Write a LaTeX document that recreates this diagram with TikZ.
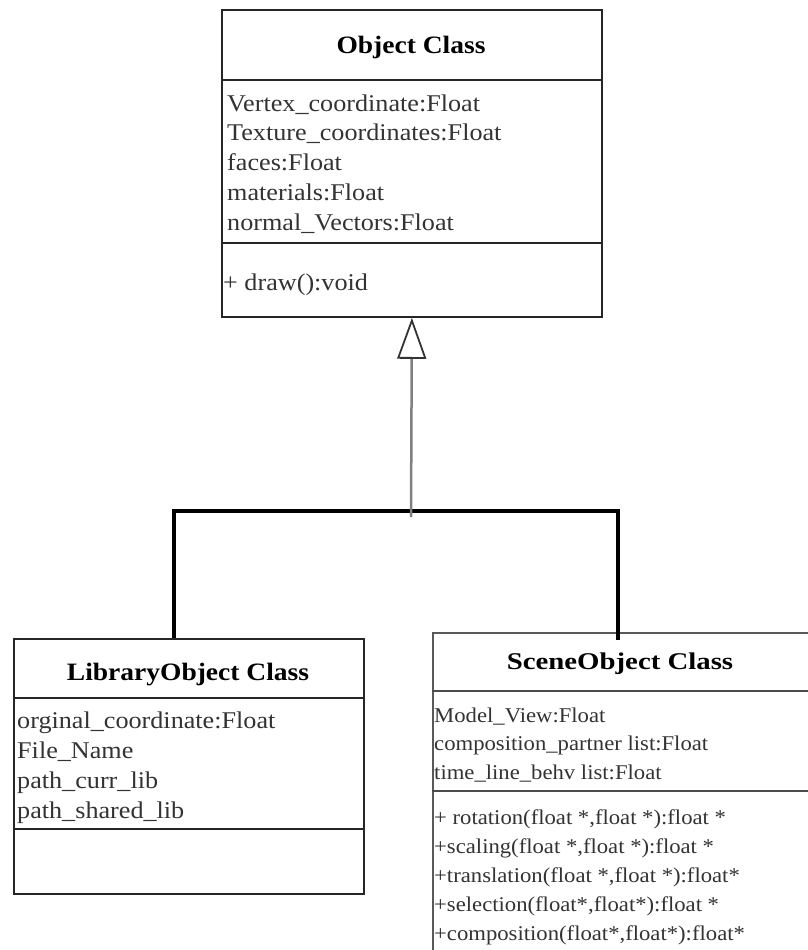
\documentclass[tikz,border=0pt]{standalone}
\usepackage{fontspec}
\setmainfont{Liberation Serif}
\newfontfamily\attrfont[FakeStretch=1.09]{Liberation Serif}
\newfontfamily\scenefont[FakeStretch=1.08]{Liberation Serif}
\newfontfamily\titlefont[FakeStretch=1.1]{Liberation Serif}
\newfontfamily\scenetitlefont[FakeStretch=1.2]{Liberation Serif}
\usetikzlibrary{arrows.meta}

\begin{document}
\begin{tikzpicture}[x=1pt,y=-1pt,
  classbox/.style={draw=black!85, line width=1.8pt, rectangle, inner sep=0pt, anchor=north west},
  divider/.style={line width=2.8pt, draw=black!85},
  title/.style={font=\titlefont\bfseries\fontsize{25}{30}\selectfont, anchor=base, inner sep=0pt},
  scenetitle/.style={font=\scenetitlefont\bfseries\fontsize{24}{30}\selectfont, anchor=base, inner sep=0pt},
  member/.style={font=\attrfont\fontsize{24}{30}\selectfont, anchor=base west, inner sep=0pt, text=black!80},
  scenemember/.style={font=\scenefont\fontsize{21}{28}\selectfont, anchor=base west, inner sep=0pt, text=black!80},
  tree/.style={line width=3.5pt, line join=miter, draw=black},
  inherit/.style={line width=2.5pt, draw=black!50,
    -{Triangle[open, length=41pt, width=29pt, line width=1.8pt, color=black!80]}}
]
\useasboundingbox (0,0) rectangle (807,950);
\fill[white] (0,0) rectangle (807,950);

% ---------- Object Class ----------
\node[classbox, minimum width=380pt, minimum height=307pt] (obj) at (221,9) {};
\draw[divider] (obj.west |- 0,80) -- (obj.east |- 0,80);
\draw[divider] (obj.west |- 0,243) -- (obj.east |- 0,243);
\node[title] (objT) at (411,54) {Object Class};
\node[member] (o1) at (227,111) {Vertex\_coordinate:Float};
\node[member] (o2) at (227,140.75) {Texture\_coordinates:Float};
\node[member] (o3) at (227,170.5) {faces:Float};
\node[member] (o4) at (227,200.25) {materials:Float};
\node[member] (o5) at (227,230) {normal\_Vectors:Float};
\node[member] (o6) at (223,290) {+ draw():void};

% ---------- LibraryObject Class ----------
\node[classbox, minimum width=350pt, minimum height=255pt] (lib) at (13,638) {};
\draw[divider] (lib.west |- 0,698) -- (lib.east |- 0,698);
\draw[divider] (lib.west |- 0,829) -- (lib.east |- 0,829);
\node[title] (libT) at (188,680) {LibraryObject Class};
\node[member] (l1) at (17,728) {orginal\_coordinate:Float};
\node[member] (l2) at (17,758) {File\_Name};
\node[member] (l3) at (17,788) {path\_curr\_lib};
\node[member] (l4) at (17,818) {path\_shared\_lib};

% ---------- SceneObject Class ----------
\node[classbox, draw=black!65, minimum width=380pt, minimum height=340pt] (scene) at (432,632) {};
\draw[divider, draw=black!70] (scene.west |- 0,691) -- (scene.east |- 0,691);
\draw[divider, draw=black!70] (scene.west |- 0,791) -- (scene.east |- 0,791);
\node[scenetitle] (sceneT) at (620,669) {SceneObject Class};
\node[scenemember] (s1) at (434,722) {Model\_View:Float};
\node[scenemember] (s2) at (434,750.5) {composition\_partner list:Float};
\node[scenemember] (s3) at (434,779) {time\_line\_behv list:Float};
\node[scenemember] (m1) at (434,824) {+ rotation(float *,float *):float *};
\node[scenemember] (m2) at (434,853) {+scaling(float *,float *):float *};
\node[scenemember] (m3) at (434,882) {+translation(float *,float *):float*};
\node[scenemember] (m4) at (434,911) {+selection(float*,float*):float *};
\node[scenemember] (m5) at (434,940) {+composition(float*,float*):float*};

% ---------- generalisation ----------
\coordinate (bus) at (411,517);
\coordinate (jl) at (174,511);
\coordinate (jr) at (618,511);
\coordinate (sceneIn) at (618,640);
\draw[tree] (jl |- lib.north) -- (jl) -- (jr) -- (sceneIn);
\draw[inherit] (bus) -- (obj.south);
\end{tikzpicture}
\end{document}
